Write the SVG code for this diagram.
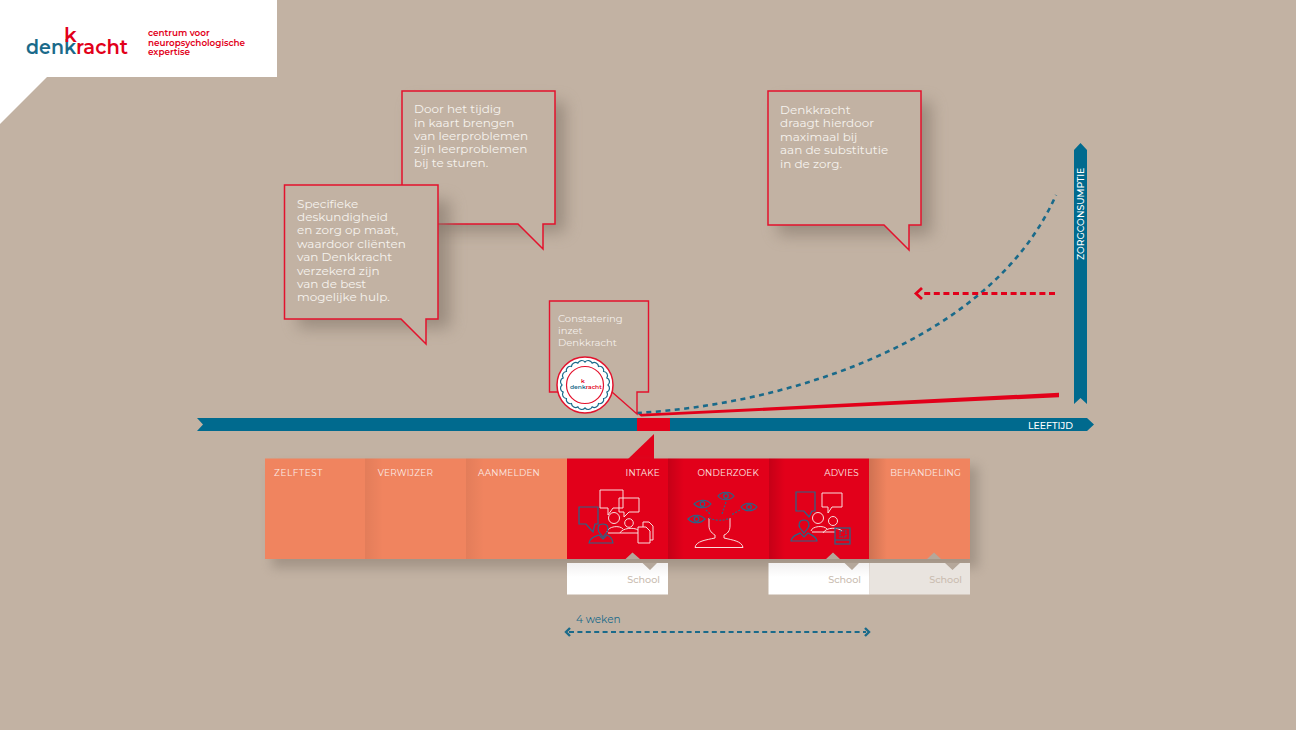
<svg xmlns="http://www.w3.org/2000/svg" width="1296" height="730" viewBox="0 0 1296 730">
<defs>
<filter id="sh" x="-30%" y="-30%" width="170%" height="170%"><feGaussianBlur stdDeviation="8"/></filter>
<filter id="soft" x="-30%" y="-30%" width="160%" height="160%"><feGaussianBlur stdDeviation="6"/></filter>
<linearGradient id="fadeL" x1="0" x2="1" y1="0" y2="0"><stop offset="0" stop-color="#000" stop-opacity=".14"/><stop offset="1" stop-color="#000" stop-opacity="0"/></linearGradient>
<linearGradient id="white1" x1="0" x2="0" y1="0" y2="1"><stop offset="0" stop-color="#f2f0f0"/><stop offset=".45" stop-color="#fff"/></linearGradient>
</defs>
<style>
text{font-family:"Montserrat","Inter","Open Sans","Liberation Sans",sans-serif}
.bub{fill:#c2b2a3;stroke:#e3122d;stroke-width:1.5;stroke-linejoin:miter}
.shadow{fill:#85776a;opacity:.65;filter:url(#sh)}
.bt{fill:#f6f2ee;font-size:12px}
.st{fill:#fbe9e4;font-size:8.9px;text-anchor:end;letter-spacing:.2px}
.sch{fill:#c9bcb0;font-size:9.6px;text-anchor:end;font-weight:500}
.ico{fill:none;stroke:#f8dcdc;stroke-width:1}
.icb{fill:none;stroke:#24688a;stroke-width:1.2}
.orange{fill:#f0845f}.red{fill:#e2001a}
.tag{fill:#b5a79a}
</style>
<rect width="1296" height="730" fill="#c2b2a3"/>
<g id="logo">
<path d="M0 0H277V77H47L0 124Z" fill="#fff"/>
<text x="26" y="54" font-size="20" font-weight="600" fill="#1a6a8a" textLength="50" lengthAdjust="spacingAndGlyphs">denk</text>
<text x="64" y="42" font-size="20" font-weight="600" fill="#e2001a">k</text>
<text x="76" y="54" font-size="20" font-weight="600" fill="#e2001a" textLength="52" lengthAdjust="spacingAndGlyphs">racht</text>
<g fill="#e2001a" font-size="8.800" font-weight="600"><text x="148" y="36">centrum voor</text><text x="148" y="46">neuropsychologische</text><text x="148" y="55">expertise</text></g>
</g>
<g id="bubble-tijdig">
<path class="shadow" d="M412 102H565V232H412Z"/>
<path class="bub" d="M402 91H555V224H543V249L518 224H402Z"/>
<g class="bt"><text x="414" y="113">Door het tijdig</text><text x="414" y="126.600">in kaart brengen</text><text x="414" y="140">van leerproblemen</text><text x="414" y="153.400">zijn leerproblemen</text><text x="414" y="166.800">bij te sturen.</text></g>
</g>
<g id="bubble-deskundigheid">
<path class="shadow" d="M298 200H450V328H298Z"/>
<path class="bub" d="M284.500 185H438V319H426V344L401 319H284.500Z"/>
<g class="bt"><text x="297" y="207.500">Specifieke</text><text x="297" y="220.900">deskundigheid</text><text x="297" y="234.300">en zorg op maat,</text><text x="297" y="247.700">waardoor cliënten</text><text x="297" y="261.100">van Denkkracht</text><text x="297" y="274.500">verzekerd zijn</text><text x="297" y="287.900">van de best</text><text x="297" y="301.300">mogelijke hulp.</text></g>
</g>
<g id="bubble-substitutie">
<path class="shadow" d="M778 102H931V235H778Z"/>
<path class="bub" d="M768 91H921V225H909V250L884 225H768Z"/>
<g class="bt"><text x="780" y="114">Denkkracht</text><text x="780" y="127.400">draagt hierdoor</text><text x="780" y="140.800">maximaal bij</text><text x="780" y="154.200">aan de substitutie</text><text x="780" y="167.600">in de zorg.</text></g>
</g>
<g id="connectors">
<path d="M637 413C780 405 990 345 1056 195" fill="none" stroke="#1a6a8a" stroke-width="2.600" stroke-dasharray="5 4.500"/>
<path d="M638 414L1059 392.800V397.200L641 416.500Z" fill="#e2001a"/>
<path d="M1055 293.500H924" stroke="#e2001a" stroke-width="3" stroke-dasharray="6 3.600" fill="none"/>
<path d="M922 288L916 293.500L922 299" fill="none" stroke="#e2001a" stroke-width="2.800"/>
<path d="M569 632H866" stroke="#1a6a8a" stroke-width="2.200" stroke-dasharray="5 3.400" fill="none"/>
<path d="M570 628L566 632L570 636M865 628L869 632L865 636" fill="none" stroke="#1a6a8a" stroke-width="2.400"/>
<text x="576" y="623" font-size="10.500" fill="#1a6a8a">4 weken</text>
</g>
<g id="axis-zorgconsumptie">
<path d="M1074 150L1080.500 143L1087 150V404L1080.500 398L1074 404Z" fill="#006a8e"/>
<text transform="translate(1084,260) rotate(-90)" font-size="9.300" font-weight="500" fill="#fff">ZORGCONSUMPTIE</text>
</g>
<g id="axis-leeftijd">
<path d="M197 418H1087L1094 424.500L1087 431H197L203 424.500Z" fill="#006a8e"/>
<rect x="637" y="418" width="33" height="13" fill="#e2001a"/>
<text x="1073" y="428.500" font-size="9.400" font-weight="500" fill="#fff" text-anchor="end">LEEFTIJD</text>
</g>
<g id="constatering">
<path d="M560 392H549.500V301H648.500V392H637V414L612 392" fill="none" stroke="#e3122d" stroke-width="1.400"/>
<g fill="#f4efea" font-size="10"><text x="558" y="322">Constatering</text><text x="558" y="334">inzet</text><text x="558" y="346">Denkkracht</text></g>
<circle cx="585" cy="385" r="28" fill="#fff" stroke="#e3122d" stroke-width="1.500"/>
<path d="M608 385A4.200 4.200 0 0 1 606.870 392.110A4.200 4.200 0 0 1 603.610 398.520A4.200 4.200 0 0 1 598.520 403.610A4.200 4.200 0 0 1 592.110 406.870A4.200 4.200 0 0 1 585 408A4.200 4.200 0 0 1 577.890 406.870A4.200 4.200 0 0 1 571.480 403.610A4.200 4.200 0 0 1 566.390 398.520A4.200 4.200 0 0 1 563.130 392.110A4.200 4.200 0 0 1 562 385A4.200 4.200 0 0 1 563.130 377.890A4.200 4.200 0 0 1 566.390 371.480A4.200 4.200 0 0 1 571.480 366.390A4.200 4.200 0 0 1 577.890 363.130A4.200 4.200 0 0 1 585 362A4.200 4.200 0 0 1 592.110 363.130A4.200 4.200 0 0 1 598.520 366.390A4.200 4.200 0 0 1 603.610 371.480A4.200 4.200 0 0 1 606.870 377.890A4.200 4.200 0 0 1 608 385Z" fill="none" stroke="#1a6a8a" stroke-width="1.200"/>
<circle cx="585" cy="385" r="18.500" fill="#fff" stroke="#e3122d" stroke-width="1.200"/>
<text x="570" y="389" font-size="6" font-weight="600" fill="#1a6a8a">denk<tspan fill="#e2001a">racht</tspan></text>
<text x="581" y="383" font-size="6" font-weight="600" fill="#e2001a">k</text>
</g>
<path id="pointer" d="M654 434V459H628Z" fill="#e2001a"/>
<rect x="272" y="466" width="706" height="102" fill="#7d6f63" opacity=".45" filter="url(#soft)"/>
<g id="step-zelftest"><rect class="orange" x="265" y="458.500" width="100" height="100.500"/><text class="st" x="323" y="476" style="letter-spacing:.6px">ZELFTEST</text></g>
<g id="step-verwijzer"><rect class="orange" x="365" y="458.500" width="101" height="100.500"/><rect x="365" y="458.500" width="18" height="100.500" fill="url(#fadeL)" opacity=".4"/><text class="st" x="433" y="476">VERWIJZER</text></g>
<g id="step-aanmelden"><rect class="orange" x="466" y="458.500" width="101" height="100.500"/><rect x="466" y="458.500" width="18" height="100.500" fill="url(#fadeL)" opacity=".4"/><text class="st" x="540" y="476">AANMELDEN</text></g>
<g id="step-intake">
<rect class="red" x="567" y="458.500" width="101" height="100.500"/><text class="st" x="660" y="476">INTAKE</text>
<g class="ico"><path d="M600 490H623V508H613L608 515V508H600Z"/><path d="M619 498H639V512H629L624 517V512H619Z"/><circle cx="614" cy="518" r="5.500"/><path d="M607 532C608 526 620 525 623 529"/><circle cx="629" cy="523" r="4.300"/><path d="M620 533C622 528 634 527 638 530"/><path d="M608 533H638"/><path d="M638 527H646L650 531V543H638Z"/><path d="M643 527V522H649L653 526V540H650"/></g>
<g class="icb"><path d="M579 507H598V524H595L593 532L586 524H579Z"/><path d="M603 524C608 524 609 528 607 532L603 537L599 532C597 528 598 524 603 524Z"/><path d="M589 543C590 537 596 536 599 535L603 539L607 535C610 536 612 538 613 543Z"/></g>
</g>
<g id="step-onderzoek">
<rect class="red" x="668" y="458.500" width="101" height="100.500"/><rect x="668" y="458.500" width="16" height="100.500" fill="url(#fadeL)" opacity=".9"/><text class="st" x="759" y="476">ONDERZOEK</text>
<g class="ico"><path d="M709 518V526C709 531 713 534 715 535V538C706 540 696 541 695 547.500H743C742 541 732 540 724 538V535C727 534 730 531 730 526V518"/></g>
<g class="icb"><path d="M694 504C699 499 707 499 711 504C707 509 699 509 694 504ZM718 496C722 491 730 491 734 496C730 501 722 501 718 496ZM741 507C745 502 753 502 757 507C753 512 745 512 741 507ZM688 519C693 514 700 514 705 519C700 524 693 524 688 519Z"/><circle cx="702.500" cy="504" r="2.300"/><circle cx="726" cy="496" r="2.300"/><circle cx="749" cy="507" r="2.300"/><circle cx="696.500" cy="519" r="2.300"/><path d="M709 518C715 521 724 521 730 518" stroke-dasharray="2 1.500"/><path d="M706 510L711 515M726 502L722 514M740 510L731 515" stroke-dasharray="2 1.500"/></g>
</g>
<g id="step-advies">
<rect class="red" x="769" y="458.500" width="100" height="100.500"/><rect x="769" y="458.500" width="16" height="100.500" fill="url(#fadeL)" opacity=".9"/><text class="st" x="859" y="476">ADVIES</text>
<g class="ico"><path d="M822 493H842V507H832L828 513V507H822Z"/><circle cx="818" cy="518" r="5.500"/><path d="M811 531C812 526 824 525 827 529"/><circle cx="833" cy="521" r="4.500"/><path d="M823 533C826 527 838 527 842 531"/><path d="M812 532H835"/></g>
<g class="icb"><path d="M796 492H815V511H812L809 517L804 511H796Z"/><path d="M804 520C809 520 810 525 808 528L804 533L800 528C798 525 799 520 804 520Z"/><path d="M791 541C792 535 797 535 800 533L804 537L808 533C811 535 816 536 817 541Z"/><rect x="835" y="528" width="15" height="16"/><path d="M835 540H850"/><path d="M840 531H846V537H840Z" stroke-dasharray="1.500 1"/></g>
</g>
<g id="step-behandeling">
<rect class="orange" x="869" y="458.500" width="101" height="100.500"/><rect x="869" y="458.500" width="18" height="100.500" fill="url(#fadeL)"/><text class="st" x="961" y="476">BEHANDELING</text>
</g>
<g id="school-intake"><rect x="567" y="563" width="101" height="31.500" fill="url(#white1)"/><text class="sch" x="660" y="583">School</text><path class="tag" d="M625.500 559L632.500 552.500L640 559ZM642.500 563H657L650 570Z"/></g>
<g id="school-advies"><rect x="768.500" y="563" width="101" height="31.500" fill="url(#white1)"/><text class="sch" x="861" y="583">School</text><path class="tag" d="M826 559L833 552.500L840 559ZM844.500 563H859L852 570Z"/></g>
<g id="school-behandeling"><rect x="869.500" y="563" width="100.500" height="31.500" fill="#e9e4df"/><text class="sch" x="962" y="583">School</text><path class="tag" d="M927 559L934 552.500L941 559ZM945 563H960L952.500 570Z"/></g>
</svg>
